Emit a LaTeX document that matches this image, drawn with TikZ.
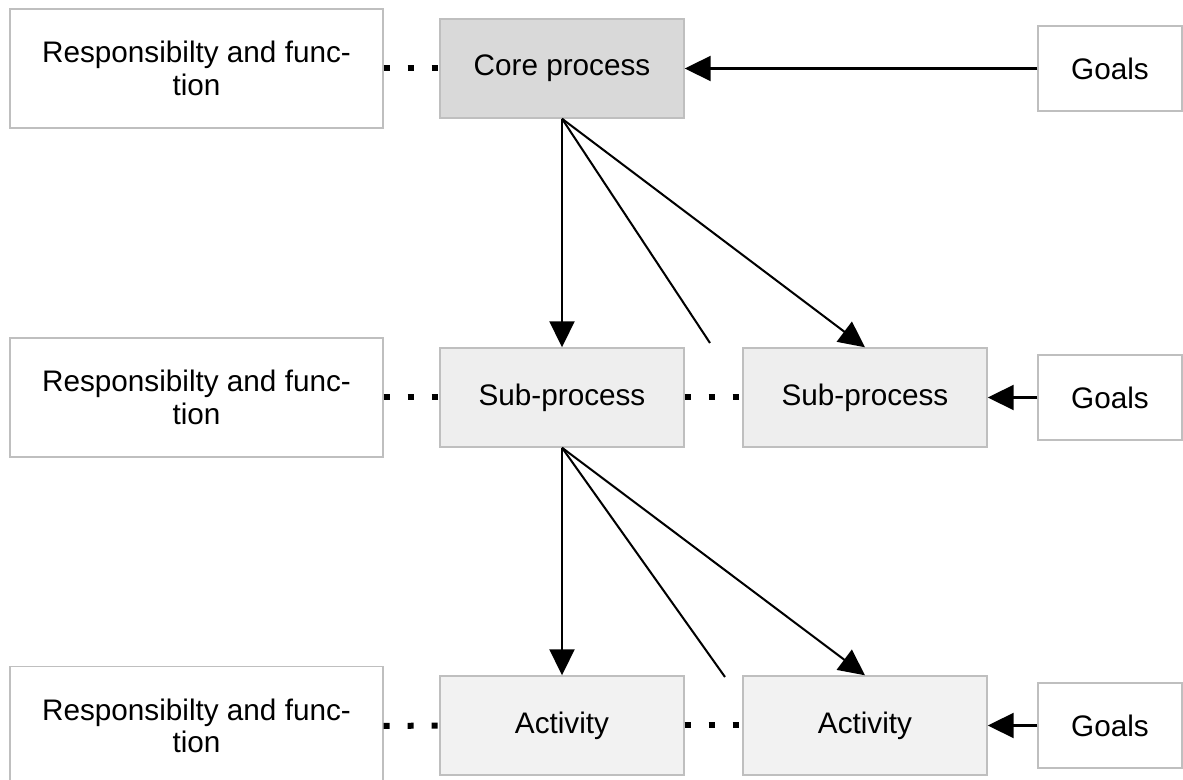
\documentclass[tikz,border=0pt]{standalone}
\usepackage{fontspec}
\setmainfont{Liberation Sans}
\usepackage{xcolor}
\usepackage{tikz}
\usetikzlibrary{arrows.meta, positioning}

\definecolor{boxline}{HTML}{BFBFBF}
\definecolor{corefill}{HTML}{D9D9D9}
\definecolor{subfill}{HTML}{EEEEEE}
\definecolor{actfill}{HTML}{F2F2F2}

\begin{document}
\begin{tikzpicture}
    % Define styles
    \tikzstyle{resp} = [rectangle, draw=boxline, fill=white, line width=0.8pt, minimum width=7.46cm, minimum height=2.38cm, align=center, font=\fontsize{16.9}{18.5}\selectfont]
    \tikzstyle{proc} = [rectangle, draw=boxline, line width=0.8pt, minimum width=4.88cm, minimum height=1.98cm, align=center, font=\fontsize{16.9}{18.5}\selectfont]
    \tikzstyle{goal} = [rectangle, draw=boxline, fill=white, line width=0.8pt, minimum width=2.88cm, minimum height=1.7cm, align=center, font=\fontsize{16.9}{18.5}\selectfont]
    \tikzstyle{arrow} = [-{Triangle[length=5.2mm, width=5mm]}, line width=1.15pt]
    \tikzstyle{plain} = [line width=1.15pt]
    \tikzstyle{dots} = [line width=0.12cm, dash pattern=on 0.12cm off 0.36cm]

    \useasboundingbox (0,0) rectangle (23.66,-15.6);

    % Top level
    \node[resp] (resp1) at (3.93,-1.37) {Responsibilty and func-\\tion};
    \node[proc, fill=corefill] (core) at (11.24,-1.37) {Core process};
    \node[goal] (goals1) at (22.2,-1.37) {Goals};

    % Sub-processes
    \node[resp] (resp2) at (3.93,-7.95) {Responsibilty and func-\\tion};
    \node[proc, fill=subfill] (sub1) at (11.24,-7.95) {Sub-process};
    \node[proc, fill=subfill] (sub2) at (17.3,-7.95) {Sub-process};
    \node[goal] (goals2) at (22.2,-7.95) {Goals};

    % Activities
    \node[resp] (resp3) at (3.93,-14.52) {Responsibilty and func-\\tion};
    \node[proc, fill=actfill] (act1) at (11.24,-14.51) {Activity};
    \node[proc, fill=actfill] (act2) at (17.3,-14.51) {Activity};
    \node[goal] (goals3) at (22.2,-14.51) {Goals};

    % Loose ends of the fan lines
    \coordinate (fan1) at (14.2,-6.86);
    \coordinate (fan2) at (14.5,-13.54);

    % Dotted links
    \draw[dots] (resp1.east) -- (core.west);
    \draw[dots] (resp2.east) -- (sub1.west);
    \draw[dots] (sub1.east) -- (sub2.west);
    \draw[dots] (resp3.east) -- (act1.west);
    \draw[dots] (act1.east) -- (act2.west);

    % Goals
    \draw[arrow] (goals1.west) -- (core.east);
    \draw[arrow] (goals2.west) -- (sub2.east);
    \draw[arrow] (goals3.west) -- (act2.east);

    % Breakdown
    \draw[arrow] (core.south) -- (sub1.north);
    \draw[plain] (core.south) -- (fan1);
    \draw[arrow] (core.south) -- (sub2.north);
    \draw[arrow] (sub1.south) -- (act1.north);
    \draw[plain] (sub1.south) -- (fan2);
    \draw[arrow] (sub1.south) -- (act2.north);

\end{tikzpicture}
\end{document}
